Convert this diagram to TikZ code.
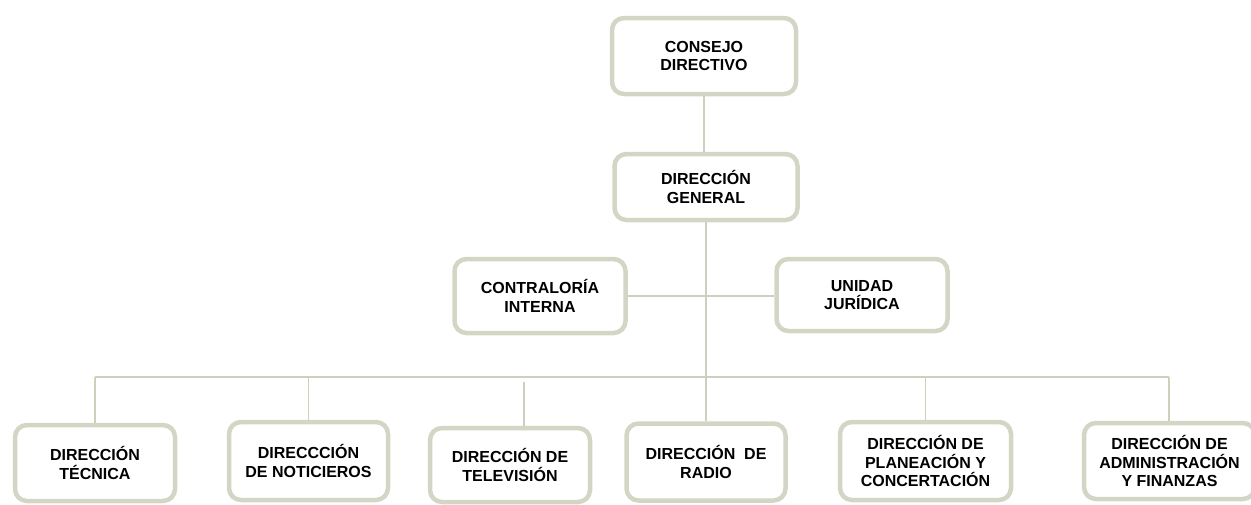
\documentclass[tikz,border=0pt]{standalone}
\usepackage{fontspec}
\setmainfont{Liberation Sans}
\definecolor{boxline}{HTML}{D3D6C4}
\definecolor{conline}{HTML}{CDD0BC}
\begin{document}
\begin{tikzpicture}[x=1pt,y=-1pt,
  orgbox/.style={draw=boxline, line width=4.5pt, rounded corners=12pt, fill=white,
    align=center, inner sep=2pt,
    font=\fontsize{16}{18.2}\selectfont\bfseries},
  conn/.style={draw=conline, line width=1.8pt}]
\useasboundingbox (0,0) rectangle (1251,504);
% nodes
\node[orgbox, minimum width=184pt, minimum height=76pt] (consejo) at (704,56) {CONSEJO\\DIRECTIVO};
\node[orgbox, minimum width=183pt, minimum height=66pt] (general) at (706,187) {DIRECCIÓN\\GENERAL};
\node[orgbox, minimum width=171pt, minimum height=74pt] (contra) at (540,296) {CONTRALORÍA\\INTERNA};
\node[orgbox, minimum width=171pt, minimum height=72pt] (unidad) at (862,295) {UNIDAD\\JURÍDICA};
\node[orgbox, minimum width=160pt, minimum height=76pt] (b1) at (95,463) {DIRECCIÓN\\TÉCNICA};
\node[orgbox, minimum width=159pt, minimum height=78pt] (b2) at (308.5,461) {DIRECCCIÓN\\DE NOTICIEROS};
\node[orgbox, minimum width=160pt, minimum height=74pt] (b3) at (510,465) {DIRECCIÓN DE\\TELEVISIÓN};
\node[orgbox, minimum width=159pt, minimum height=77pt] (b4) at (706,462) {DIRECCIÓN\ \ DE\\RADIO};
\node[orgbox, minimum width=171pt, minimum height=78pt] (b5) at (925.5,461) {DIRECCIÓN DE\\PLANEACIÓN Y\\CONCERTACIÓN};
\node[orgbox, minimum width=171pt, minimum height=76pt] (b6) at (1169.5,461) {DIRECCIÓN DE\\ADMINISTRACIÓN\\Y FINANZAS};
% bus coordinates
\coordinate (busL) at (95,377);
\coordinate (busR) at (1169,377);
\coordinate (tvtop) at (524,382);
% connectors
\draw[conn] (consejo.south) -- (consejo.south |- general.north);
\draw[conn] (general.south) -- (b4.north);
\draw[conn] (contra.east) -- (contra.east -| unidad.west);
\draw[conn] (busL) -- (busR);
\draw[conn] (busL) -- (b1.north);
\draw[conn] (b2.north |- busL) -- (b2.north);
\draw[conn] (tvtop) -- (tvtop |- b3.north);
\draw[conn] (b5.north |- busL) -- (b5.north);
\draw[conn] (busR) -- (busR |- b6.north);
\end{tikzpicture}
\end{document}
